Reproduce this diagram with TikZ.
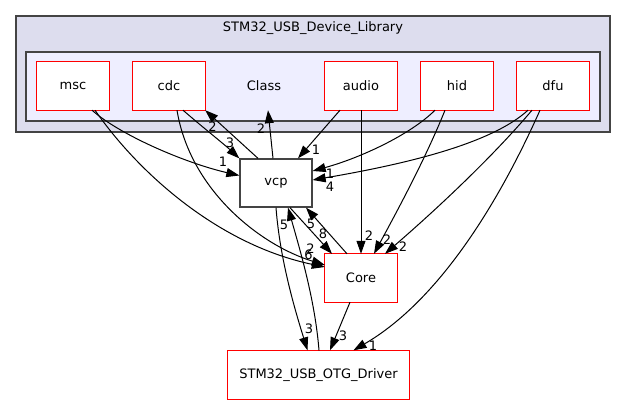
\documentclass[tikz,border=0pt]{standalone}
\usepackage{fontspec}
\setmainfont{DejaVu Sans}
\usetikzlibrary{arrows.meta}
\definecolor{outerfill}{HTML}{DDDDEE}
\definecolor{innerfill}{HTML}{EEEEFF}
\definecolor{clborder}{HTML}{444444}
\definecolor{dirred}{HTML}{FF0000}
\tikzset{
  txt/.style={font=\fontsize{13}{15}\selectfont},
  dirbox/.style={txt, fill=white, minimum width=72pt, minimum height=48pt, inner sep=0pt},
  curbox/.style={txt, draw=clborder, fill=white, line width=1.3pt, minimum width=72pt, minimum height=48pt, inner sep=0pt},
  cluster/.style={draw=clborder, line width=1.5pt},
  redframe/.style={draw=dirred, line width=1pt},
  dep/.style={draw=black, line width=1pt, -{Triangle[length=13pt,width=9pt]}},
  lbl/.style={txt, inner sep=0pt}
}
\begin{document}
\begin{tikzpicture}[x=1pt,y=-1pt]
\useasboundingbox (0,0) rectangle (627,404);
\fill[white] (0,0) rectangle (627,404);
% clusters
\filldraw[cluster, fill=outerfill] (16,16) rectangle (610,132);
\filldraw[cluster, fill=innerfill] (26,52) rectangle (600,121);
\node[lbl] (libtitle) at (313,28) {STM32\_USB\_Device\_Library};
% nodes
\node[dirbox] (msc) at (73,86) {msc};
\node[dirbox] (cdc) at (169,86) {cdc};
\node[lbl, minimum height=48pt] (Class) at (264,86) {Class};
\node[dirbox] (audio) at (361,86) {audio};
\node[dirbox] (hid) at (457,86) {hid};
\node[dirbox] (dfu) at (553,86) {dfu};
\node[curbox] (vcp) at (276,183) {vcp};
\node[dirbox] (Core) at (361,278) {Core};
\node[dirbox, minimum width=182pt, minimum height=49pt] (OTG) at (318.5,375) {STM32\_USB\_OTG\_Driver};
% red frames
\foreach \n in {msc,cdc,audio,hid,dfu,Core,OTG}
  \draw[redframe] (\n.north west) rectangle (\n.south east);
% edges
\draw[dep] ([xshift=19pt]msc.south) .. controls (120,135) and (185,163) .. ([yshift=7.5pt]vcp.west);
\draw[dep] ([xshift=22pt]msc.south) .. controls (140,175) and (220,245) .. ([yshift=11pt]Core.west);
\draw[dep] ([xshift=8pt]cdc.south) .. controls (190,190) and (260,245) .. ([yshift=13pt]Core.west);
\draw[dep] ([xshift=14pt]cdc.south) .. controls (200,125) and (225,145) .. (vcp.north west);
\draw[dep] ([xshift=-18pt]vcp.north) -- (cdc.south east);
\draw[dep] ([xshift=-3pt]vcp.north) -- ([xshift=4pt]Class.south);
\draw[dep] ([xshift=-21pt]audio.south) -- ([xshift=22pt]vcp.north);
\draw[dep] (audio.south) -- (Core.north);
\draw[dep] ([xshift=-22pt]hid.south) .. controls (410,135) and (360,158) .. ([yshift=12pt]vcp.east);
\draw[dep] ([xshift=-25pt]dfu.south) .. controls (490,145) and (400,165) .. ([yshift=3pt]vcp.east);
\draw[dep] ([xshift=-12pt]hid.south) .. controls (425,160) and (395,215) .. ([xshift=13pt]Core.north);
\draw[dep] ([xshift=-21pt]dfu.south) .. controls (490,160) and (430,215) .. ([xshift=24pt]Core.north);
\draw[dep] ([xshift=-13pt]dfu.south) .. controls (500,200) and (440,300) .. ([xshift=35pt]OTG.north);
\draw[dep] ([xshift=14pt]vcp.south) -- ([xshift=-29pt]Core.north);
\draw[dep] ([xshift=-14pt]Core.north) -- ([xshift=30pt]vcp.south);
\draw[dep] (vcp.south) .. controls (280,260) and (295,310) .. ([xshift=-11pt]OTG.north);
\draw[dep] ([xshift=0.5pt]OTG.north) .. controls (315,300) and (300,250) .. ([xshift=12pt]vcp.south);
\draw[dep] ([xshift=-11pt]Core.south) -- ([xshift=11.5pt]OTG.north);
% edge labels
\node[lbl] (l1) at (223,162) {1};
\node[lbl] (l2) at (230,143) {3};
\node[lbl] (l3) at (212.5,127) {2};
\node[lbl] (l4) at (261,129) {2};
\node[lbl] (l5) at (316,150) {1};
\node[lbl] (l6) at (369,236) {2};
\node[lbl] (l7) at (330,174) {1};
\node[lbl] (l8) at (330,187) {4};
\node[lbl] (l9) at (387,240) {2};
\node[lbl] (l10) at (403,247) {2};
\node[lbl] (l11) at (373,346) {1};
\node[lbl] (l12) at (323,234) {8};
\node[lbl] (l13) at (311,224) {5};
\node[lbl] (l14) at (309,329) {3};
\node[lbl] (l15) at (284,225) {5};
\node[lbl] (l16) at (343,336) {3};
\node[lbl] (l17) at (310.5,249) {2};
\node[lbl] (l18) at (308.5,255) {6};
\end{tikzpicture}
\end{document}
